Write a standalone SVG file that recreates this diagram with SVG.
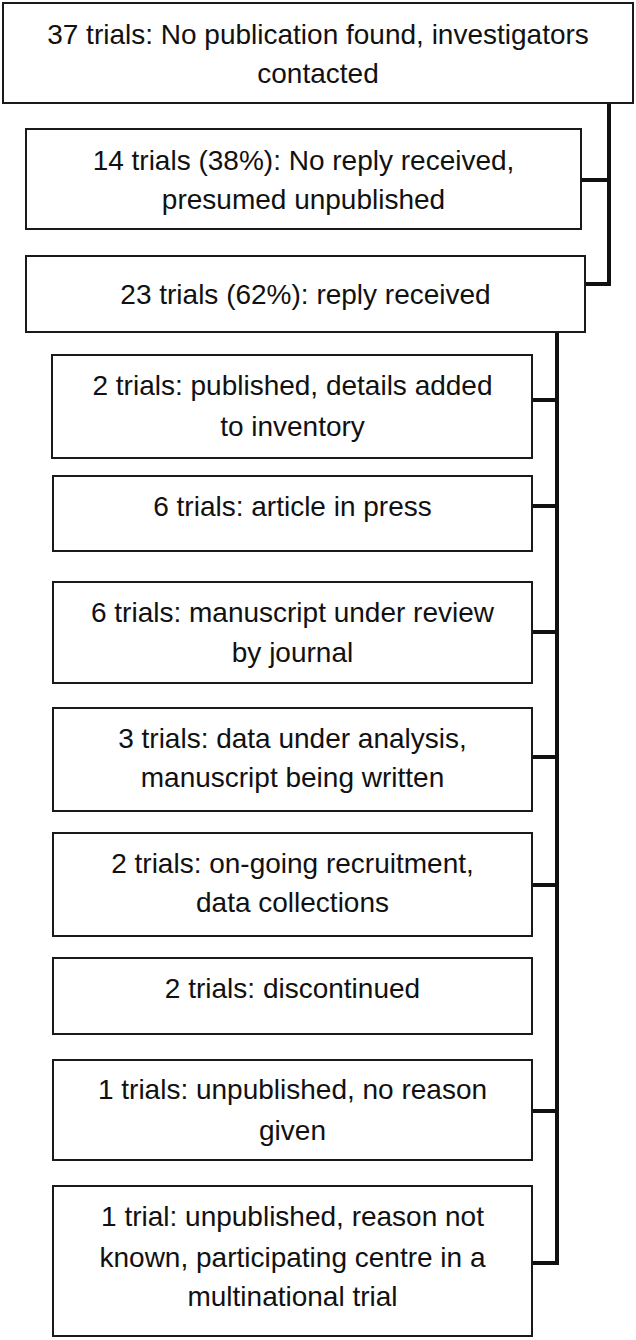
<svg xmlns="http://www.w3.org/2000/svg" width="636" height="1340" viewBox="0 0 636 1340">
<style>
.box{fill:#fff;stroke:#1a1a1a;stroke-width:2}
.t{font-family:"Liberation Sans",Arial,sans-serif;font-size:28px;fill:#111;text-anchor:middle}
.c{stroke:#111;stroke-width:4;fill:none}
</style>
<rect width="636" height="1340" fill="#fff"/>
<g id="connectors">
<path class="c" d="M609 103V286M581 180H611M585 284H611"/>
<path class="c" d="M557 332V1265M532 400H559M532 506H559M532 632H559M532 757H559M532 885H559M532 1111H559M532 1263H559"/>
</g>
<g id="n1"><rect class="box" x="3" y="3" width="630" height="100"/>
<text class="t" x="318" y="44">37 trials: No publication found, investigators</text>
<text class="t" x="318" y="83">contacted</text></g>
<g id="n2"><rect class="box" x="26" y="129" width="555" height="100"/>
<text class="t" x="303.5" y="170">14 trials (38%): No reply received,</text>
<text class="t" x="303.5" y="209">presumed unpublished</text></g>
<g id="n3"><rect class="box" x="26" y="256" width="559" height="76"/>
<text class="t" x="305.5" y="304">23 trials (62%): reply received</text></g>
<g id="n4"><rect class="box" x="52" y="355" width="480" height="103"/>
<text class="t" x="292.5" y="395">2 trials: published, details added</text>
<text class="t" x="292.5" y="436">to inventory</text></g>
<g id="n5"><rect class="box" x="53" y="476" width="479" height="75"/>
<text class="t" x="292.5" y="516">6 trials: article in press</text></g>
<g id="n6"><rect class="box" x="53" y="582" width="479" height="101"/>
<text class="t" x="292.5" y="622">6 trials: manuscript under review</text>
<text class="t" x="292.5" y="662">by journal</text></g>
<g id="n7"><rect class="box" x="53" y="708" width="479" height="103"/>
<text class="t" x="292.5" y="748">3 trials: data under analysis,</text>
<text class="t" x="292.5" y="787">manuscript being written</text></g>
<g id="n8"><rect class="box" x="53" y="833" width="479" height="103"/>
<text class="t" x="292.5" y="873">2 trials: on-going recruitment,</text>
<text class="t" x="292.5" y="912">data collections</text></g>
<g id="n9"><rect class="box" x="53" y="958" width="479" height="76"/>
<text class="t" x="292.5" y="998">2 trials: discontinued</text></g>
<g id="n10"><rect class="box" x="53" y="1060" width="479" height="100"/>
<text class="t" x="292.5" y="1099">1 trials: unpublished, no reason</text>
<text class="t" x="292.5" y="1140">given</text></g>
<g id="n11"><rect class="box" x="53" y="1186" width="479" height="150"/>
<text class="t" x="292.5" y="1226">1 trial: unpublished, reason not</text>
<text class="t" x="292.5" y="1267">known, participating centre in a</text>
<text class="t" x="292.5" y="1306">multinational trial</text></g>
</svg>
